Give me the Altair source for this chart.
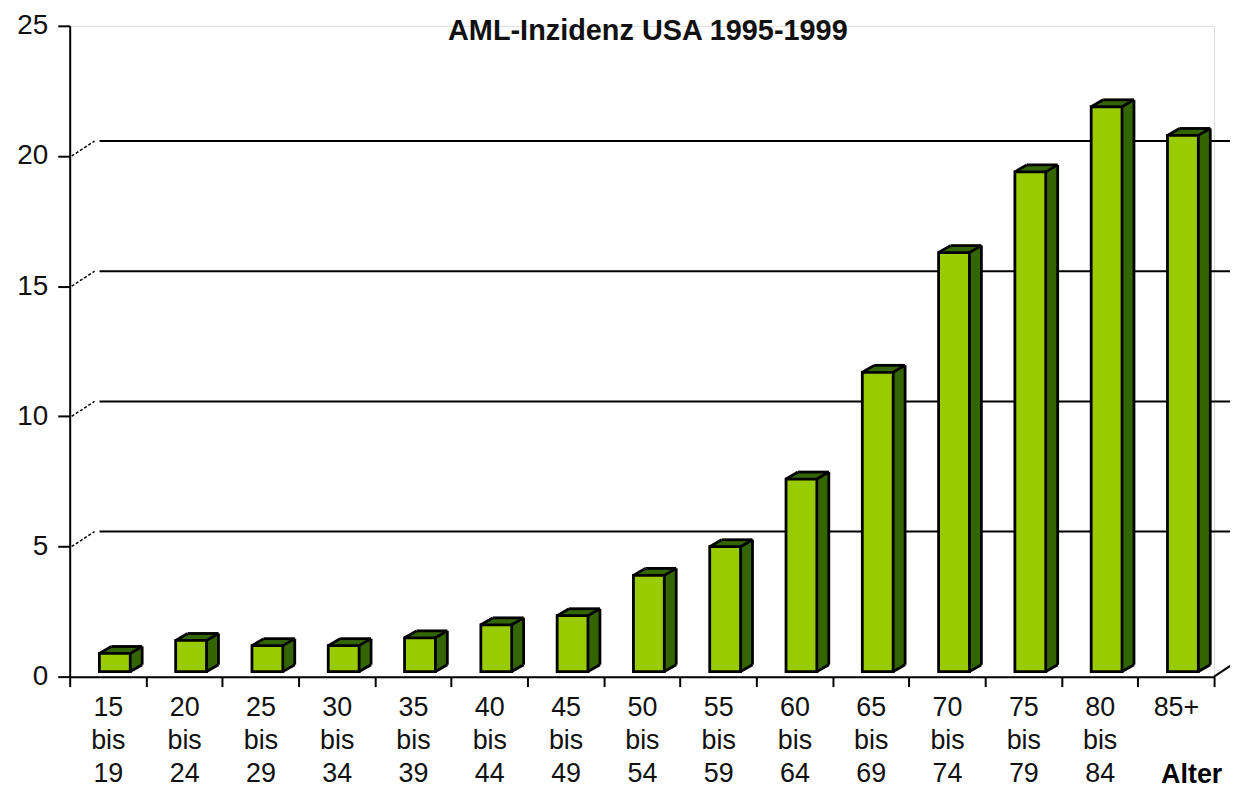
import altair as alt
import pandas as pd

# ---- data ----
categories = ["15 bis 19", "20 bis 24", "25 bis 29", "30 bis 34", "35 bis 39",
              "40 bis 44", "45 bis 49", "50 bis 54", "55 bis 59", "60 bis 64",
              "65 bis 69", "70 bis 74", "75 bis 79", "80 bis 84", "85+"]
incidence = [0.7, 1.2, 1.0, 1.0, 1.3, 1.8, 2.15, 3.7, 4.8, 7.4,
             11.5, 16.1, 19.2, 21.7, 20.6]
y_tick_values = [0, 5, 10, 15, 20, 25]
grid_levels = [5, 10, 15, 20]
floor_level = [0]
chart_title = ["AML-Inzidenz USA 1995-1999"]
x_title = "Alter"

df = pd.DataFrame({"Alter": categories, "Wert": incidence})
grid_df = pd.DataFrame({"Wert": grid_levels})
floor_df = pd.DataFrame({"Wert": floor_level})
title_df = pd.DataFrame({"t": chart_title})

# ---- styling ----
W, H = 1150, 654
FONT = "Liberation Sans"
FRONT = "#99CC00"
SIDE = "#336600"
BW = 31      # front face width
CX = 7       # shift of front face from band centre
DX, DY = 12, -7   # depth of the cuboid
BASE = -5    # bars stand slightly behind the front axis
SW = 2.8
N = 12

x_axis = alt.Axis(
    title=x_title, labelExpr="split(datum.label, ' ')", labelAngle=0,
    labelFont=FONT, labelFontSize=27, labelColor="#111", labelLineHeight=33,
    labelPadding=8, labelBaseline="top",
    tickBand="extent", tickSize=10, tickWidth=2, tickColor="#000",
    domainColor="#000", domainWidth=2,
    titleFont=FONT, titleFontSize=27, titleFontWeight="bold", titleColor="#000",
    titleX=1127, titleY=106, titleAlign="center", titleBaseline="alphabetic",
    titleAnchor="start",
)
y_axis = alt.Axis(
    title=None, values=y_tick_values, labelFont=FONT, labelFontSize=28,
    labelColor="#111", labelPadding=10, tickSize=12, tickWidth=2,
    tickColor="#000", domainColor="#000", domainWidth=2, grid=False,
)

x_enc = alt.X("Alter:N", sort=categories,
              scale=alt.Scale(paddingInner=0, paddingOuter=0), axis=x_axis)
y_scale = alt.Scale(domain=[0, 25], nice=False, zero=True)
y_enc = alt.Y("Wert:Q", scale=y_scale, axis=y_axis)

base = alt.Chart(df)

# back-wall gridlines and connectors
grid = alt.Chart(grid_df).mark_rule(color="#000", strokeWidth=2, yOffset=-15).encode(
    y=y_enc, x=alt.value(30), x2=alt.value(W + 16))
connectors = alt.Chart(grid_df).mark_rule(
    color="#000", strokeWidth=1.5, strokeDash=[3, 2], y2Offset=-15).encode(
    y=y_enc, y2=alt.Y2("Wert"), x=alt.value(2), x2=alt.value(25))
floor_diag = alt.Chart(floor_df).mark_rule(
    color="#000", strokeWidth=2, y2Offset=-12).encode(
    y=y_enc, y2=alt.Y2("Wert"), x=alt.value(W), x2=alt.value(W + 18))

layers = [grid, connectors, floor_diag]

# extrusion (side + top faces)
for k in range(1, N + 1):
    ox = CX + DX * k / N
    oy = BASE + DY * k / N
    layers.append(base.mark_bar(size=BW, xOffset=ox, x2Offset=ox,
                                yOffset=oy, y2Offset=oy, fill=SIDE,
                                strokeWidth=0).encode(x=x_enc, y=y_enc))

L = CX - BW / 2
R = CX + BW / 2
zero = base.transform_calculate(zero="0")
outline = dict(color="#000", strokeWidth=SW)
# back top edge
layers.append(base.mark_rule(xOffset=L + DX, x2Offset=R + DX, yOffset=BASE + DY,
                             y2Offset=BASE + DY, **outline).encode(
    x=x_enc, x2=alt.X2("Alter"), y=y_enc, y2=alt.Y2("Wert")))
# back right edge
layers.append(zero.mark_rule(xOffset=R + DX, x2Offset=R + DX, yOffset=BASE + DY,
                             y2Offset=BASE + DY, **outline).encode(
    x=x_enc, x2=alt.X2("Alter"), y=y_enc, y2=alt.Y2("zero:Q")))
# top-left diagonal
layers.append(base.mark_rule(xOffset=L, x2Offset=L + DX, yOffset=BASE,
                             y2Offset=BASE + DY, **outline).encode(
    x=x_enc, x2=alt.X2("Alter"), y=y_enc, y2=alt.Y2("Wert")))
# top-right diagonal
layers.append(base.mark_rule(xOffset=R, x2Offset=R + DX, yOffset=BASE,
                             y2Offset=BASE + DY, **outline).encode(
    x=x_enc, x2=alt.X2("Alter"), y=y_enc, y2=alt.Y2("Wert")))
# bottom-right diagonal
layers.append(zero.mark_rule(xOffset=R, x2Offset=R + DX, yOffset=BASE,
                             y2Offset=BASE + DY, **outline).encode(
    x=x_enc, x2=alt.X2("Alter"), y=alt.Y("zero:Q", scale=y_scale, axis=y_axis),
    y2=alt.Y2("zero:Q")))
# front face
layers.append(base.mark_bar(size=BW, xOffset=CX, x2Offset=CX, yOffset=BASE,
                            y2Offset=BASE, fill=FRONT, stroke="#000",
                            strokeWidth=SW).encode(x=x_enc, y=y_enc))

# chart title drawn inside the plot frame, as in the original
layers.append(alt.Chart(title_df).mark_text(
    font=FONT, fontSize=29, fontWeight="bold", color="#111",
    align="center", baseline="alphabetic").encode(
    text="t:N", x=alt.value(W / 2 + 6), y=alt.value(14)))

chart = alt.layer(*layers).properties(
    width=W, height=H,
    autosize=alt.AutoSizeParams(type="none"),
    padding={"left": 62, "top": 16, "right": 16, "bottom": 114},
).configure_view(stroke=None).configure(background="white")

chart.save("out.html", embed_options={"renderer": "svg", "actions": False})
